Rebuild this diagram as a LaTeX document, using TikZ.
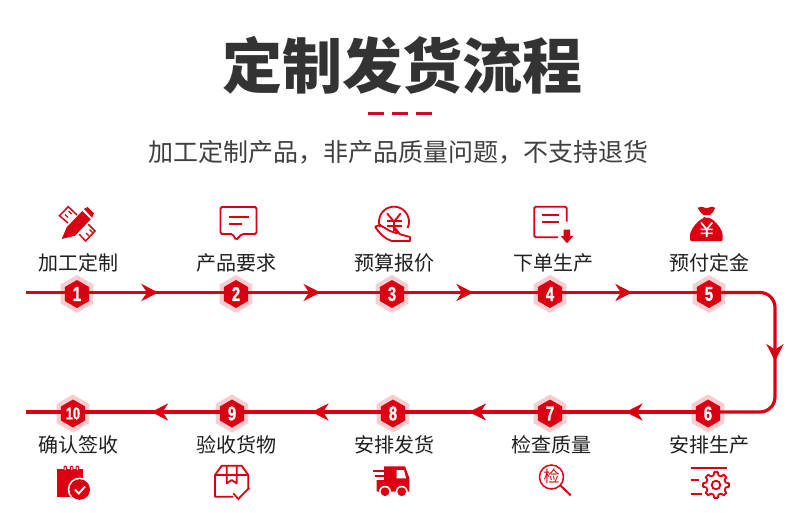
\documentclass[tikz,border=0pt]{standalone}
\usepackage{fontspec}
\setmainfont{Noto Sans CJK SC}
\newfontfamily\numfont[FakeStretch=0.75,FakeBold=1.2]{Liberation Sans}
\usetikzlibrary{arrows.meta,shapes.geometric,decorations.markings}
\definecolor{flowred}{HTML}{DB0011}
\definecolor{halopink}{HTML}{F8CDD0}
\definecolor{barred}{HTML}{C70F2B}
\begin{document}
\begin{tikzpicture}[x=1pt,y=-1pt,
  title/.style={font=\fontsize{60}{60}\selectfont\bfseries, text=black!80},
  subtitle/.style={font=\fontsize{25}{25}\selectfont, text=black!75},
  bar/.style={fill=barred, minimum width=16pt, minimum height=3pt, inner sep=0pt},
  lab/.style={font=\fontsize{20}{20}\selectfont, text=black!88},
  halo/.style={regular polygon, regular polygon sides=6, shape border rotate=30, fill=halopink, minimum size=38pt, inner sep=0pt},
  hex/.style={regular polygon, regular polygon sides=6, shape border rotate=30, fill=flowred, minimum size=28pt, inner sep=0pt, text=white, font=\numfont\fontsize{20}{20}\selectfont\bfseries},
  flow/.style={draw=flowred, line width=3.2pt},
  tip/.style={postaction={decorate}, decoration={markings, mark=at position #1 with {\arrow[flowred]{Stealth[length=17pt,width=17pt,inset=5.5pt]}}}},
  ln/.style={draw=flowred, line width=1.8pt},
  sld/.style={fill=flowred}]
\useasboundingbox (0,0) rectangle (800,513);
\fill[white] (0,0) rectangle (800,513);
\node[title] (ttl) at (402,65) {定制发货流程};
\node[bar] (d1) at (376,114) {};
\node[bar] (d2) at (400,114) {};
\node[bar] (d3) at (424,114) {};
\node[subtitle] (sub) at (398,152) {加工定制产品，非产品质量问题，不支持退货};

\node[lab] (l1) at (78,263) {加工定制};
\node[lab] (l2) at (236,263) {产品要求};
\node[lab] (l3) at (394,263) {预算报价};
\node[lab] (l4) at (553.5,263) {下单生产};
\node[lab] (l5) at (709,263) {预付定金};
\node[lab] (l6) at (709,445) {安排生产};
\node[lab] (l7) at (551,445) {检查质量};
\node[lab] (l8) at (394,445) {安排发货};
\node[lab] (l9) at (236,445) {验收货物};
\node[lab] (l10) at (78,445) {确认签收};

\node[halo] (h1) at (77,294) {};
\node[halo] (h2) at (236,294) {};
\node[halo] (h3) at (392,294) {};
\node[halo] (h4) at (550,294) {};
\node[halo] (h5) at (709,294) {};
\node[halo] (h6) at (708,413.5) {};
\node[halo] (h7) at (550,413.5) {};
\node[halo] (h8) at (393,413.5) {};
\node[halo] (h9) at (232,413.5) {};
\node[halo] (h10) at (73,413.5) {};
\coordinate (start) at (26,292.5);
\coordinate (stop) at (26,412);

\draw[flow] (start) -- ([yshift=1.5pt]h1.center);
\draw[flow, tip=0.512] ([yshift=1.5pt]h1.center) -- ([yshift=1.5pt]h2.center);
\draw[flow, tip=0.542] ([yshift=1.5pt]h2.center) -- ([yshift=1.5pt]h3.center);
\draw[flow, tip=0.515] ([yshift=1.5pt]h3.center) -- ([yshift=1.5pt]h4.center);
\draw[flow, tip=0.518] ([yshift=1.5pt]h4.center) -- ([yshift=1.5pt]h5.center);
\draw[flow, tip=0.535, rounded corners=15pt] ([yshift=1.5pt]h5.center) -| (775,412) -- ([yshift=1.5pt]h6.center);
\draw[flow, tip=0.522] ([yshift=1.5pt]h6.center) -- ([yshift=1.5pt]h7.center);
\draw[flow, tip=0.516] ([yshift=1.5pt]h7.center) -- ([yshift=1.5pt]h8.center);
\draw[flow, tip=0.506] ([yshift=1.5pt]h8.center) -- ([yshift=1.5pt]h9.center);
\draw[flow, tip=0.509] ([yshift=1.5pt]h9.center) -- ([yshift=1.5pt]h10.center);
\draw[flow] ([yshift=1.5pt]h10.center) -- (stop);

\node[hex] (n1) at (h1) {1};
\node[hex] (n2) at (h2) {2};
\node[hex] (n3) at (h3) {3};
\node[hex] (n4) at (h4) {4};
\node[hex] (n5) at (h5) {5};
\node[hex] (n6) at (h6) {6};
\node[hex] (n7) at (h7) {7};
\node[hex] (n8) at (h8) {8};
\node[hex] (n9) at (h9) {9};
\node[hex,font=\numfont\fontsize{17}{17}\selectfont\bfseries] (n10) at (h10) {10};

\fill[sld] (61.7,239) -- (66.7,227.3) -- (82.3,211) -- (90.7,219.3) -- (75,235.7) -- cycle;
\fill[sld] (84,209) -- (87.7,207) -- (94,213.3) -- (92,217.7) -- cycle;
\draw[ln,line width=1.5pt] (68,223) -- (59.5,215.7) -- (68.3,206.7) -- (77,215);
\draw[ln,line width=1.3pt] (65,214.5) -- (68,217.5) (68.5,211) -- (71.5,214);
\draw[ln,line width=1.5pt] (88.3,224.3) -- (95,231) -- (85.7,241) -- (79.3,234.3);
\draw[ln,line width=1.3pt] (86,233) -- (89,236) (89.5,229.5) -- (92.5,232.5);

\draw[ln,rounded corners=1.5pt] (220.5,207) -- (256.5,207) -- (256.5,234) -- (242,234) -- (236,240) -- (232.5,234) -- (220.5,234) -- cycle;
\draw[ln] (229.3,216.7) -- (249.3,216.7);
\draw[ln] (229.3,224) -- (241.7,224);

\draw[ln] (379.9,226.8) arc (-200:25:15);
\draw[ln,line join=round] (375,226.7) -- (380,225) -- (390,231) -- (397,233.3) -- (395,228) -- (400,234.3) -- (410,237) -- (410,241) -- (391.7,241) .. controls (385,239) and (379,233) .. (375,226.7);
\draw[ln] (387,213.3) -- (394,221.7) -- (400.7,213.3);
\draw[ln] (394,221.7) -- (394,231);
\draw[ln] (386.7,221) -- (401.7,221);
\draw[ln] (386.7,225.7) -- (401.7,225.7);

\draw[ln,rounded corners=1.5pt] (566.7,221.7) -- (566.7,206.7) -- (534.3,206.7) -- (534.3,237.3) -- (558,237.3);
\draw[ln] (542.3,214.7) -- (559,214.7);
\draw[ln] (542.3,222.3) -- (559,222.3);
\fill[sld] (563.5,229.5) -- (570,229.5) -- (570,236) -- (573.3,236) -- (567,243.3) -- (560.7,236) -- (563.5,236) -- cycle;

\fill[sld] (697.7,207.7) -- (701.7,206.7) -- (706.7,208.3) -- (711.7,206.7) -- (715,207.7) -- (713.3,211.7) -- (710,215) -- (703.3,215) -- (700,211.7) -- cycle;
\fill[sld,rounded corners=1pt] (704.3,217.7) -- (709,217.7) .. controls (716,221) and (722.7,230) .. (722.7,236.7) -- (722.7,241) -- (690,241) -- (690,236.7) .. controls (690,230) and (697,221) .. (704.3,217.7) -- cycle;
\draw[white,line width=1.6pt] (701,222.5) -- (706.7,229.3) -- (712.4,222.5) (706.7,229.3) -- (706.7,237) (700.7,229.3) -- (712.7,229.3) (700.7,233.3) -- (712.7,233.3);

\draw[ln] (690.7,467.7) -- (726.7,467.7);
\draw[ln] (690.7,480.3) -- (699.3,480.3);
\draw[ln] (690.7,494) -- (701.7,494);
\coordinate (gc) at (716,485);
\draw[ln,line join=round] ([shift={(-14:10)}]gc) \foreach \a in {0,45,...,315} { -- ([shift={(\a-14:10)}]gc) -- ([shift={(\a-8:13)}]gc) -- ([shift={(\a+8:13)}]gc) -- ([shift={(\a+14:10)}]gc) } -- cycle;
\draw[ln] (gc) circle (4.3);

\draw[ln,line width=1.5pt] (551.5,477) circle (12);
\draw[ln,line width=2pt] (560.5,485.5) -- (570.7,495.3);
\node[text=flowred, font=\fontsize{16}{16}\selectfont, inner sep=0pt] (chk) at (551.5,476.5) {检};

\fill[sld] (384,466.3) -- (405,466.3) -- (409.3,478) -- (409.3,491.7) -- (376.7,491.7) -- (376.7,480) -- (384,480) -- cycle;
\draw[ln,line width=2.4pt] (373.3,471) -- (388,471);
\draw[ln,line width=2.4pt] (374.5,476) -- (388,476);
\fill[white] (396.7,470) -- (404,470) -- (406,478.3) -- (396.7,478.3) -- cycle;
\fill[white] (385,491.7) circle (6);
\fill[white] (401.7,491.7) circle (6);
\fill[sld] (385,491.7) circle (4.4);
\fill[sld] (401.7,491.7) circle (4.4);

\draw[ln,line join=round] (233.3,496.7) -- (215,496.7) -- (215,475) -- (221.7,465.7) -- (241.7,465.7) -- (248.3,475) -- (248.3,490);
\draw[ln] (215,475) -- (248.3,475);
\draw[ln,line join=round] (226.7,465.7) -- (226.7,483.3) -- (231.7,480) -- (236.7,483.3) -- (236.7,465.7);
\draw[ln] (233.3,493.3) -- (238.3,499) -- (249.3,487.7);

\fill[sld] (57.3,469) rectangle (83.3,496.7);
\draw[ln,fill=white,line width=1pt,rounded corners=1pt] (64,466) rectangle (66.4,471);
\draw[ln,fill=white,line width=1pt,rounded corners=1pt] (70.4,466) rectangle (72.8,471);
\draw[ln,fill=white,line width=1pt,rounded corners=1pt] (76.2,466) rectangle (78.6,471);
\fill[white] (79.7,489.5) circle (12);
\fill[sld] (79.7,489.5) circle (10.3);
\draw[white,line width=1.8pt] (75,489.5) -- (78.8,493.5) -- (85,486.5);
\end{tikzpicture}
\end{document}
